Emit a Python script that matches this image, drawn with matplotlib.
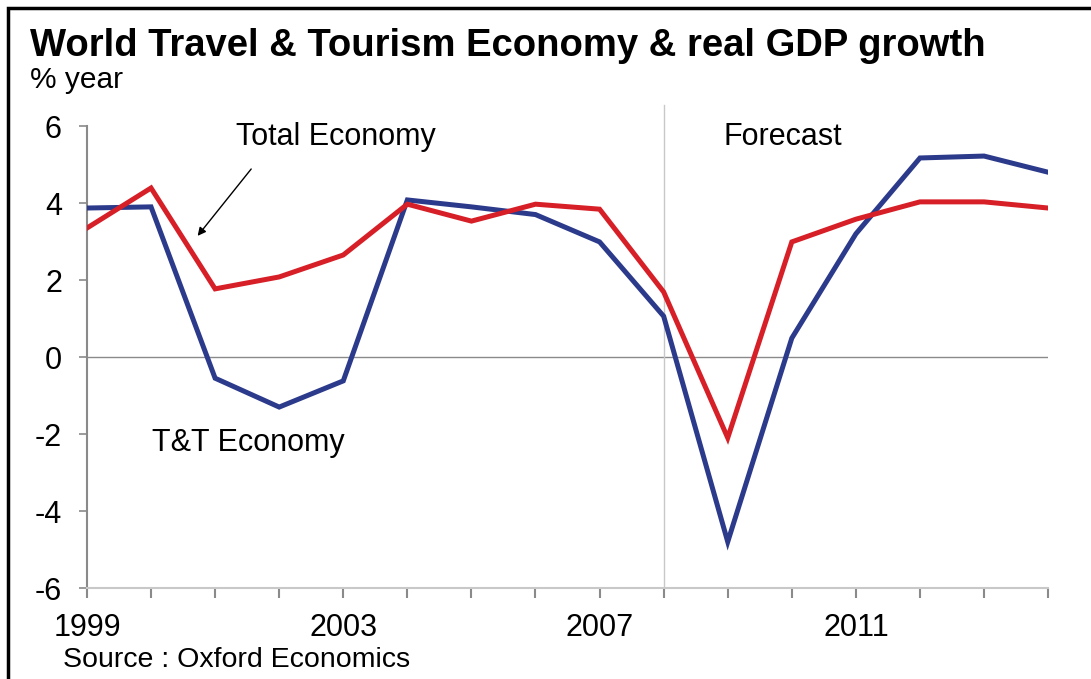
import matplotlib
matplotlib.use("Agg")
from matplotlib import pyplot as plt
from matplotlib.patches import Rectangle

plt.rcParams['font.family'] = ['Liberation Sans', 'DejaVu Sans']
plt.rcParams['axes.unicode_minus'] = False

years = list(range(1999, 2015))
tt_economy = [3.87, 3.90, -0.55, -1.30, -0.62, 4.08, 3.90, 3.70, 2.99, 1.06,
              -4.80, 0.49, 3.20, 5.17, 5.22, 4.80]
total_economy = [3.35, 4.39, 1.77, 2.08, 2.65, 3.97, 3.53, 3.97, 3.84, 1.69,
                 -2.10, 2.99, 3.58, 4.03, 4.03, 3.87]
year_labels = {1999: "1999", 2003: "2003", 2007: "2007", 2011: "2011"}
forecast_start = 2008

red = "#d71f27"
blue = "#2b3a8a"

fig = plt.figure(figsize=(10.91, 6.79), dpi=100)
ax = fig.add_axes([0.0797, 0.134, 0.881, 0.6804])

ax.plot(years, tt_economy, color=blue, lw=3.6, solid_joinstyle="miter", zorder=3)
ax.plot(years, total_economy, color=red, lw=3.6, solid_joinstyle="miter", zorder=4)

ax.axhline(0, color="#8a8a8a", lw=1.0, zorder=1)
ax.plot([forecast_start, forecast_start], [-6, 6.55], color="#c8c8c8", lw=1.0,
        clip_on=False, zorder=1)

ax.set_xlim(years[0], years[-1])
ax.set_ylim(-6, 6)
ax.set_yticks(range(-6, 7, 2))
ax.set_xticks(years)
ax.set_xticklabels([year_labels.get(y, "") for y in years])

for side in ("top", "right"):
    ax.spines[side].set_visible(False)
ax.spines["left"].set_color("#8a8a8a")
ax.spines["left"].set_linewidth(1.5)
ax.spines["bottom"].set_color("#c8c8c8")
ax.spines["bottom"].set_linewidth(1.5)
ax.tick_params(axis="y", colors="#8a8a8a", length=6, width=1.2, pad=12,
               labelsize=22, labelcolor="black")
ax.tick_params(axis="x", colors="#8a8a8a", length=7, width=1.5, pad=11,
               labelsize=22, labelcolor="black")

ax.text(2001.33, 5.71, "Total Economy", fontsize=22, va="center", ha="left")
ax.annotate("", xy=(2000.70, 3.09), xytext=(2001.59, 4.94),
            arrowprops=dict(arrowstyle="-|>", color="black", lw=1.0,
                            mutation_scale=12))
ax.text(2000.01, -2.23, "T&T Economy", fontsize=22, va="center", ha="left")
ax.text(2008.94, 5.71, "Forecast", fontsize=22, va="center", ha="left")

fig.text(0.0275, 0.932, "World Travel & Tourism Economy & real GDP growth",
         fontsize=27.5, fontweight="bold", va="center", ha="left")
fig.text(0.0275, 0.882, "% year", fontsize=21.5, va="center", ha="left")
fig.text(0.058, 0.028, "Source : Oxford Economics", fontsize=20.5,
         va="center", ha="left")

# outer frame, only top and left edges fall inside the canvas
fig.patches.append(Rectangle((8 / 1091, -0.05), 1.2, 1 - 8 / 679 + 0.05,
                             transform=fig.transFigure, fill=False,
                             edgecolor="black", lw=2.5))

fig.savefig("out.png", dpi=100)
